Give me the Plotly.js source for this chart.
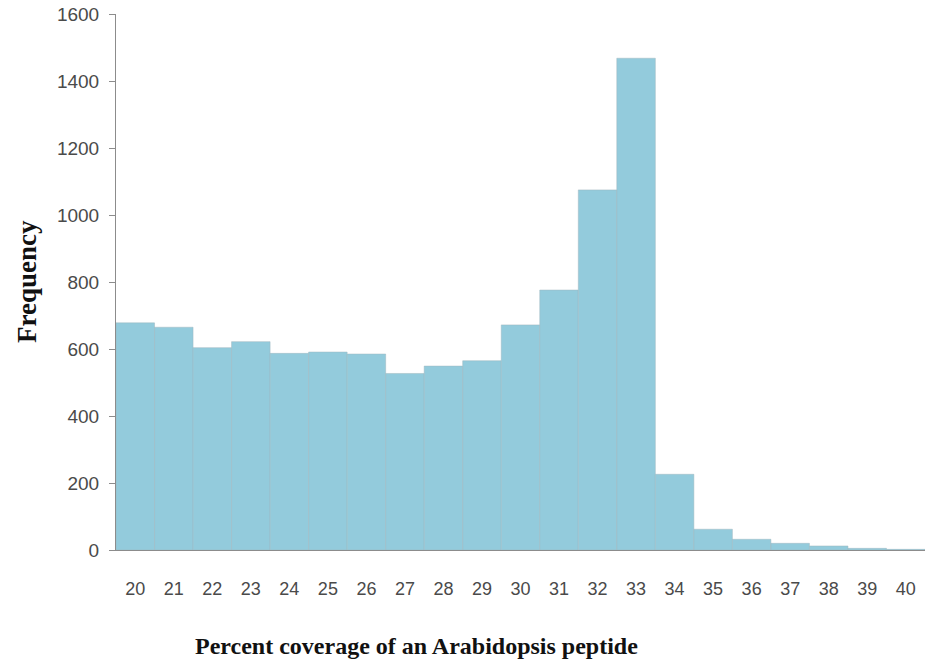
<!DOCTYPE html>
<html>
<head>
<meta charset="utf-8">
<script src="https://cdn.plot.ly/plotly-3.0.1.min.js"></script>
<style>html,body{margin:0;padding:0;background:#fff;}#chart{width:925px;height:662px;}</style>
</head>
<body>
<div id="chart"></div>
<script>
const coverage = [20,21,22,23,24,25,26,27,28,29,30,31,32,33,34,35,36,37,38,39,40];
const frequency = [678,665,604,622,587,591,585,527,549,565,672,776,1075,1468,226,62,32,20,12,5,2];
const yTicks = [0,200,400,600,800,1000,1200,1400,1600];
const xTitle = "Percent coverage of an Arabidopsis peptide";
const yTitle = "Frequency";

const trace = {
  type: 'bar',
  x: coverage,
  y: frequency,
  marker: {color: '#93CBDC', line: {color: '#9FB6BE', width: 0.5}},
  hoverinfo: 'x+y'
};

const layout = {
  width: 925, height: 662,
  margin: {l: 116, r: 0, t: 14, b: 112},
  paper_bgcolor: '#fff', plot_bgcolor: '#fff',
  bargap: 0,
  showlegend: false,
  font: {family: 'Liberation Sans, Arial, sans-serif', color: '#4a4a4a', size: 18},
  xaxis: {
    range: [19.5, 40.5],
    tickmode: 'array', tickvals: coverage, ticktext: coverage.map(String),
    ticks: 'outside', ticklen: 22, tickcolor: 'rgba(0,0,0,0)',
    showline: true, linecolor: '#8c8c8c', linewidth: 1,
    showgrid: false, zeroline: false,
    tickfont: {size: 18, color: '#4a4a4a'}
  },
  yaxis: {
    range: [0, 1600],
    tickmode: 'array', tickvals: yTicks, ticktext: yTicks.map(String),
    ticks: 'outside', ticklen: 6, tickcolor: '#8c8c8c',
    ticklabelstandoff: 6,
    showline: true, linecolor: '#8c8c8c', linewidth: 1,
    showgrid: false, zeroline: false,
    tickfont: {size: 19, color: '#4a4a4a'}
  },
  annotations: [
    {text: '<b>' + xTitle + '</b>', xref: 'paper', yref: 'paper',
     x: 0.371, y: -0.18, xanchor: 'center', yanchor: 'middle', showarrow: false,
     font: {family: 'Liberation Serif, Times New Roman, serif', size: 24, color: '#111'}},
    {text: '<b>' + yTitle + '</b>', xref: 'paper', yref: 'paper',
     x: -0.11, y: 0.5, xanchor: 'center', yanchor: 'middle', showarrow: false, textangle: -90,
     font: {family: 'Liberation Serif, Times New Roman, serif', size: 27, color: '#111'}}
  ]
};

Plotly.newPlot('chart', [trace], layout, {displayModeBar: false, staticPlot: true});
</script>
</body>
</html>
